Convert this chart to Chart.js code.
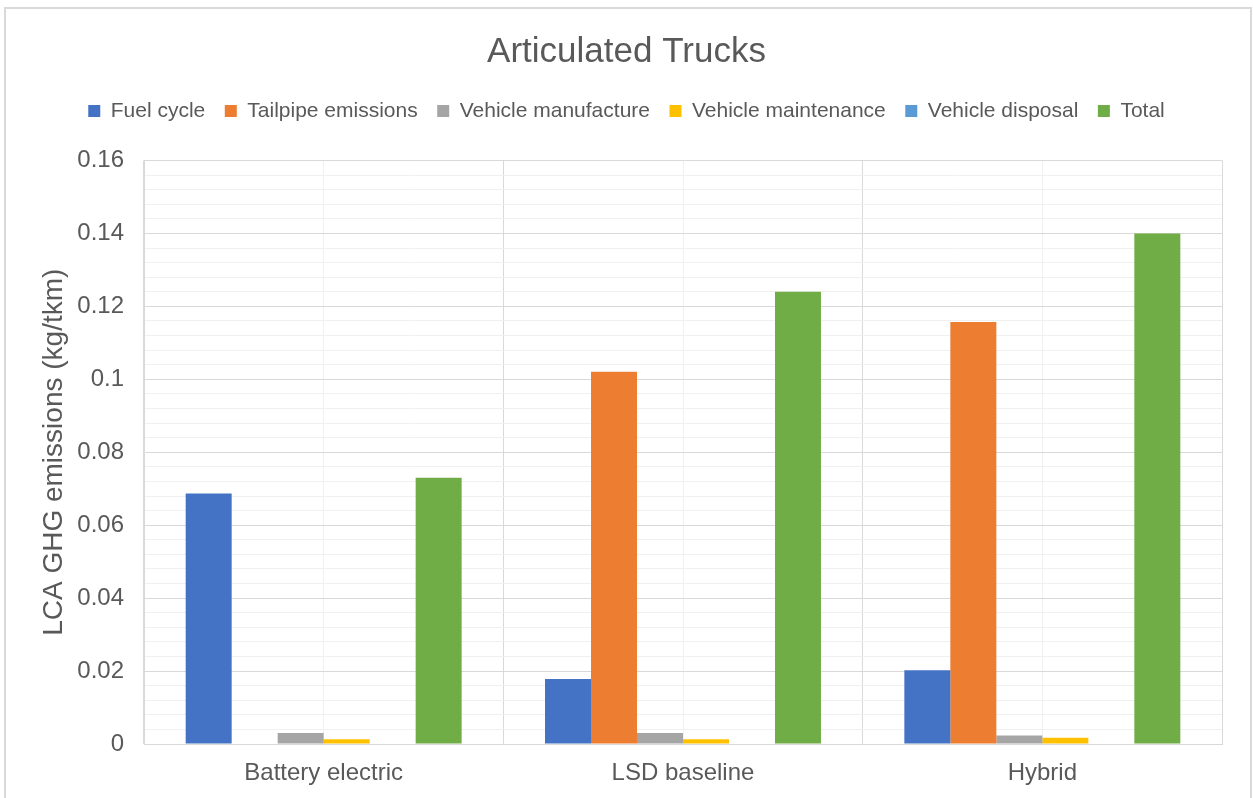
<!DOCTYPE html>
<html>
<head>
<meta charset="utf-8">
<script src="https://cdn.jsdelivr.net/npm/chart.js@4.4.1/dist/chart.umd.min.js"></script>
<style>
  html, body { margin: 0; padding: 0; background: #fff; overflow: hidden; }
  #wrap { position: relative; width: 1253px; height: 798px; }
  #frame { position: absolute; left: 4px; top: 7px; width: 1244px; height: 800px; border: 2px solid #d9d9d9; pointer-events: none; }
</style>
</head>
<body>
<div id="wrap">
  <canvas id="trucksChart" width="1253" height="798"></canvas>
  <div id="frame"></div>
</div>
<script>
const categories = ['Battery electric', 'LSD baseline', 'Hybrid'];
const fuelCycle = [0.0687, 0.0178, 0.0202];
const tailpipe = [0, 0.1021, 0.1157];
const manufacture = [0.0030, 0.0030, 0.0023];
const maintenance = [0.0013, 0.0013, 0.0017];
const disposal = [0, 0, 0];
const total = [0.0730, 0.1240, 0.1400];

const seriesNames = ['Fuel cycle', 'Tailpipe emissions', 'Vehicle manufacture', 'Vehicle maintenance', 'Vehicle disposal', 'Total'];
const seriesColors = ['#4472c4', '#ed7d31', '#a5a5a5', '#ffc000', '#5b9bd5', '#70ad47'];
const seriesData = [fuelCycle, tailpipe, manufacture, maintenance, disposal, total];

const textColor = '#595959';
const majorGrid = '#d9d9d9';
const minorGrid = '#f0f0f0';

// major lines every 0.02, minor ones every 0.004
function isMajor(v) {
    return Math.round(v * 1000) % 20 === 0;
}

Chart.defaults.font.family = '"Liberation Sans", Arial, sans-serif';
Chart.defaults.color = textColor;

document.addEventListener('DOMContentLoaded', function () {
    const ctx = document.getElementById('trucksChart');
    new Chart(ctx, {
        type: 'bar',
        data: {
            labels: categories,
            datasets: seriesNames.map((name, i) => ({
                label: name,
                data: seriesData[i],
                backgroundColor: seriesColors[i],
                borderWidth: 0,
                categoryPercentage: 0.768,
                barPercentage: 1
            }))
        },
        options: {
            responsive: false,
            animation: false,
            devicePixelRatio: 1,
            layout: {padding: 0},
            plugins: {
                title: {
                    display: true,
                    text: 'Articulated Trucks',
                    color: textColor,
                    font: {size: 35, weight: 'normal'},
                    padding: {top: 31, bottom: 8}
                },
                legend: {
                    position: 'top',
                    labels: {
                        boxWidth: 12,
                        boxHeight: 12,
                        padding: 19.5,
                        color: textColor,
                        font: {size: 21}
                    }
                },
                tooltip: {enabled: false}
            },
            scales: {
                x: {
                    grid: {offset: true, color: majorGrid, drawTicks: false},
                    border: {color: majorGrid},
                    ticks: {color: textColor, font: {size: 24}, padding: 15},
                    afterFit: s => { s.height = 54; }
                },
                // light lines through the middle of each category
                x2: {
                    type: 'category',
                    labels: categories,
                    position: 'top',
                    offset: true,
                    grid: {offset: false, color: minorGrid, drawTicks: false},
                    border: {display: false},
                    ticks: {display: false},
                    afterFit: s => { s.height = 29; }
                },
                y: {
                    min: 0,
                    max: 0.16,
                    grid: {
                        drawTicks: false,
                        color: c => isMajor(c.tick.value) ? majorGrid : minorGrid
                    },
                    border: {color: majorGrid},
                    ticks: {
                        stepSize: 0.004,
                        autoSkip: false,
                        padding: 20,
                        color: textColor,
                        font: {size: 24},
                        callback: v => isMajor(v) ? String(Math.round(v * 100) / 100) : ''
                    },
                    title: {
                        display: true,
                        text: 'LCA GHG emissions (kg/tkm)',
                        color: textColor,
                        font: {size: 28},
                        padding: {top: 37, bottom: 0}
                    },
                    afterFit: s => { s.width = 144; }
                },
                // empty right-hand axis keeps the plot clear of the frame
                yRight: {
                    position: 'right',
                    grid: {display: false},
                    border: {display: false},
                    ticks: {display: false},
                    afterFit: s => { s.width = 31; }
                }
            }
        }
    });
});
</script>
</body>
</html>
